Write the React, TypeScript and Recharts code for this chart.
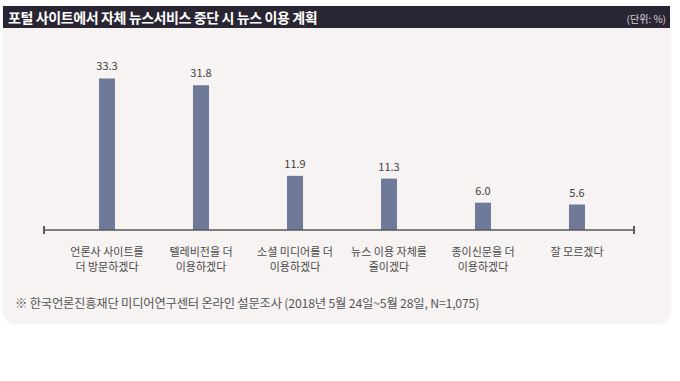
import * as React from 'react'
import { BarChart, Bar, XAxis, YAxis, LabelList } from 'recharts'

const categories = [
	'언론사 사이트를\n더 방문하겠다',
	'텔레비전을 더\n이용하겠다',
	'소셜 미디어를 더\n이용하겠다',
	'뉴스 이용 자체를\n줄이겠다',
	'종이신문을 더\n이용하겠다',
	'잘 모르겠다',
]
const values = [33.3, 31.8, 11.9, 11.3, 6.0, 5.6]

const title = '포털 사이트에서 자체 뉴스서비스 중단 시 뉴스 이용 계획'
const unit = '(단위: %)'
const source = '※ 한국언론진흥재단 미디어연구센터 온라인 설문조사 (2018년 5월 24일~5월 28일, N=1,075)'

const data = categories.map((name, i) => ({ name, value: values[i] }))

const font = '"Noto Sans CJK KR", "Noto Sans", sans-serif'
const axisColor = '#5a5a5a'

const CategoryTick = (props: any) => {
	const { x, y, payload } = props
	const lines = String(payload.value).split('\n')
	return (
		<text x={x} y={y} textAnchor="middle" fill="#4a4a4a" fontSize={11} fontFamily={font}>
			{lines.map((l, i) => (
				<tspan key={i} x={x} dy={i === 0 ? 18 : 15}>
					{l}
				</tspan>
			))}
		</text>
	)
}

const App = (): JSX.Element => {
	return (
		<div style={{ position: 'absolute', left: 0, top: 0, width: 680, height: 381, background: '#fff', fontFamily: font }}>
			<div
				style={{
					position: 'absolute',
					left: 3,
					top: 6,
					width: 667,
					height: 316,
					background: '#f7f3f3',
					borderRadius: '0 0 12px 12px',
					boxShadow: '0 1px 3px rgba(0,0,0,0.08)',
				}}
			/>
			<div
				style={{
					position: 'absolute',
					left: 3,
					top: 6,
					width: 667,
					height: 22,
					background: '#2a2533',
				}}
			>
				<span style={{ position: 'absolute', left: 5, top: 1, color: '#fff', fontSize: 14, fontWeight: 700, letterSpacing: -0.4 }}>
					{title}
				</span>
				<span style={{ position: 'absolute', right: 4, top: 5, color: '#d8d4dc', fontSize: 10 }}>{unit}</span>
			</div>
			<div style={{ position: 'absolute', left: 0, top: 0 }}>
				<BarChart width={680} height={381} data={data} margin={{ top: 48, right: 46, bottom: 111, left: 43 }}>
					<YAxis hide domain={[0, 40]} />
					<XAxis
						dataKey="name"
						interval={0}
						height={40}
						padding={{ left: 17, right: 10 }}
						axisLine={{ stroke: axisColor, strokeWidth: 1.5 }}
						tickLine={false}
						tick={<CategoryTick />}
					/>
					<Bar dataKey="value" fill="#6e7a98" barSize={16} isAnimationActive={false}>
						<LabelList
							dataKey="value"
							position="top"
							offset={8}
							formatter={(v: any) => Number(v).toFixed(1)}
							style={{ fill: '#3e3e3e', fontSize: 11, fontFamily: font }}
						/>
					</Bar>
				</BarChart>
			</div>
			<div style={{ position: 'absolute', left: 43, top: 226, width: 1.5, height: 8, background: axisColor }} />
			<div style={{ position: 'absolute', left: 633, top: 226, width: 1.5, height: 8, background: axisColor }} />
			<div style={{ position: 'absolute', left: 15, top: 294, color: '#555', fontSize: 12.3, letterSpacing: -0.2 }}>{source}</div>
		</div>
	)
}

export default App
